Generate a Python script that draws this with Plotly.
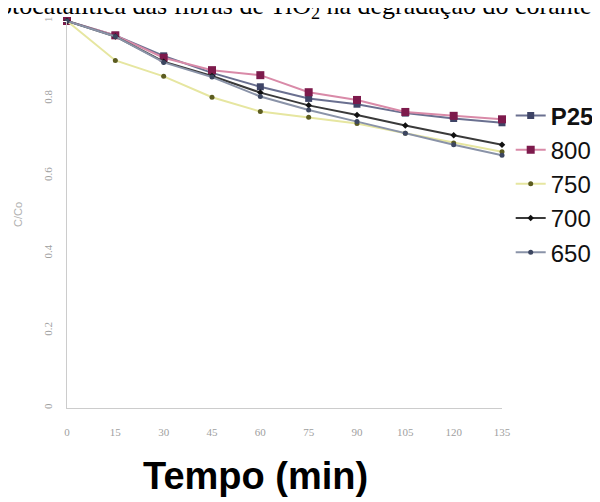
import plotly.graph_objects as go

tempo = [0, 15, 30, 45, 60, 75, 90, 105, 120, 135]
x_ticks = ["0", "15", "30", "45", "60", "75", "90", "105", "120", "135"]
y_ticks = [0, 0.2, 0.4, 0.6, 0.8, 1]
y_tick_labels = ["0", "0.2", "0.4", "0.6", "0.8", "1"]

p25 = [1.0, 0.963, 0.910, 0.866, 0.830, 0.800, 0.785, 0.762, 0.748, 0.737]
s800 = [1.0, 0.963, 0.905, 0.873, 0.860, 0.816, 0.796, 0.765, 0.755, 0.746]
s750 = [1.0, 0.898, 0.857, 0.803, 0.766, 0.751, 0.735, 0.710, 0.685, 0.662]
s700 = [1.0, 0.960, 0.895, 0.858, 0.815, 0.782, 0.757, 0.730, 0.705, 0.680]
s650 = [1.0, 0.960, 0.893, 0.855, 0.805, 0.770, 0.740, 0.710, 0.680, 0.653]

series = [
    ("<b>P25</b>", p25, "#6a7090", "#3e4466", "square", 7),
    ("800", s800, "#d98aa8", "#7d1a4c", "square", 8),
    ("750", s750, "#e6e6a0", "#5c5c20", "circle", 5),
    ("700", s700, "#3a3a3a", "#111111", "diamond", 5),
    ("650", s650, "#8a93a8", "#3c4660", "circle", 5),
]

fig = go.Figure()
for i, (name, vals, lc, mc, sym, ms) in enumerate(series):
    fig.add_trace(go.Scatter(
        x=tempo, y=vals, name=name, mode="lines+markers",
        line=dict(color=lc, width=2),
        marker=dict(color=mc, symbol=sym, size=ms),
        cliponaxis=False,
    ))

# page offset of 8px (body margin) compensated in margins
L, T, PW, PH = 59, 13, 435, 387
fig.update_layout(
    width=600, height=502,
    margin=dict(l=L, r=600 - L - PW, t=T, b=502 - T - PH, autoexpand=False),
    plot_bgcolor="white", paper_bgcolor="white",
    showlegend=True,
    legend=dict(
        x=1.02, y=0.813, xanchor="left", yanchor="top",
        font=dict(family="Liberation Sans, Arial", size=24, color="#111"),
        bgcolor="rgba(0,0,0,0)",
    ),
    xaxis=dict(
        range=[0, 135], tickmode="array", tickvals=tempo, ticktext=x_ticks,
        showgrid=False, zeroline=False, showline=True, linecolor="#cccccc",
        linewidth=1, ticks="outside", ticklen=14, tickcolor="white", automargin=False,
        tickfont=dict(family="Liberation Serif", size=11, color="#a0a0a0"),
    ),
    yaxis=dict(
        range=[0, 1], tickmode="array", tickvals=y_ticks, ticktext=y_tick_labels,
        showgrid=False, zeroline=False, showline=True, linecolor="#cccccc",
        linewidth=1, ticks="outside", ticklen=10, tickcolor="white", tickangle=-90,
        automargin=False,
        tickfont=dict(family="Liberation Serif", size=11, color="#a0a0a0"),
        title=dict(text="C/Co", font=dict(family="Liberation Sans", size=11, color="#b0b0b0"),
                   standoff=16),
    ),
    annotations=[
        dict(text="otocatalítica das fibras de TiO<sub>2</sub> na degradação do corante",
             xref="paper", yref="paper", x=(-11 - L) / PW, y=1 + (T + 1) / PH,
             xanchor="left", yanchor="middle", showarrow=False,
             font=dict(family="Liberation Serif", size=26, color="#000")),
        dict(text="<b>Tempo (min)</b>", xref="paper", yref="paper",
             x=(247 - L) / PW, y=-(468 - (T + PH)) / PH, xanchor="center", yanchor="middle",
             showarrow=False, font=dict(family="Liberation Sans, Arial", size=38, color="#000")),
    ],
)

fig.write_html("out.html")
